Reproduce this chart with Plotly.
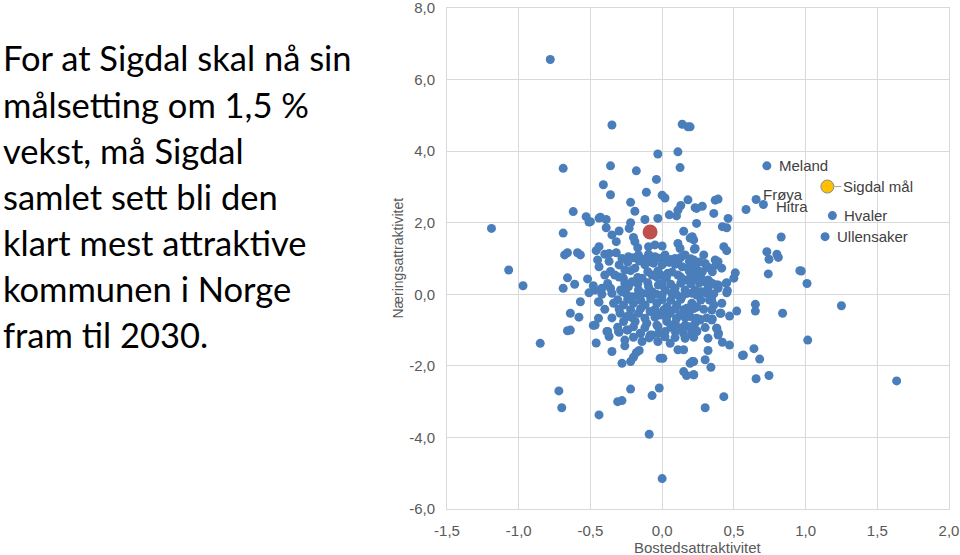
import plotly.graph_objects as go

# ---------------- data ----------------
# Bostedsattraktivitet (x) and Næringsattraktivitet (y) for Norwegian municipalities
kommune_x = [
    -0.78, -0.69, -1.19, -0.62, -0.53, -0.51, -0.44, -0.69, -0.68, -0.66, -0.59, -0.57, -0.46, -0.45,
    -1.07, -0.97, -0.66, -0.61, -0.52, -0.69, -0.48, -0.51, -0.47, -0.57, -0.44, -0.64, -0.58, -0.48,
    -0.66, -0.64, -0.85, -0.46, -0.72, -0.70, -0.44,
    -0.35, 0.14, 0.18, -0.03, 0.11, -0.36, -0.18, 0.125, -0.04, -0.41, -0.36, -0.11, 0.0, 0.02, 0.18,
    -0.22, 0.13, 0.11, -0.19, 0.23, 0.05, 0.10, -0.43, -0.39, -0.12, -0.03, -0.50, 0.24, -0.22, -0.23,
    -0.39, -0.30, 0.15, -0.35, -0.20, -0.19, 0.195, 0.22, -0.32, -0.44, -0.095, -0.05, 0.0, 0.11, 0.125,
    -0.37, -0.32, 0.23, -0.17, -0.40,
    -0.235, -0.165, -0.095, -0.05, 0.02, 0.09, 0.16, 0.39, 0.415,
    -0.30, -0.26, -0.19, -0.12, -0.06, 0.0, 0.03, 0.09, 0.14, 0.18, 0.23, 0.28, 0.33, -0.44, -0.40,
    -0.33, -0.27, -0.21, -0.14, -0.07, -0.01, 0.04, 0.11, 0.16, 0.23, 0.30, 0.38, -0.42, -0.36, -0.29,
    -0.235, -0.165, -0.095, -0.026, 0.02, 0.09, 0.16, 0.23, 0.32, 0.39,
    -0.35, -0.28, -0.21, -0.14, -0.07, 0.0, 0.067, 0.137, 0.207, 0.277, 0.346, 0.416, -0.444, -0.339,
    -0.269, -0.20, -0.118, -0.037, 0.033, 0.102, 0.172, 0.242, -0.293, -0.246, -0.165, -0.084, -0.014,
    0.056, 0.126, 0.184, 0.346, 0.404, -0.269, -0.188, -0.107, -0.037, 0.033, 0.091, 0.16, 0.23, 0.265,
    0.346, -0.385, -0.304, -0.246, -0.153, -0.084, -0.025, 0.021, 0.091, 0.149, 0.207, 0.242, 0.381,
    0.393, -0.444, -0.467,
    -0.38, -0.37, -0.30, -0.24, -0.26, -0.26, -0.35, -0.28, -0.22, -0.20, -0.18, -0.16, -0.15, -0.14,
    -0.07, -0.03, -0.014, 0.005, 0.056, 0.11, 0.15, 0.16, 0.195, 0.21, 0.15, 0.17, 0.22, -0.22, -0.31,
    -0.28, -0.07, -0.02, -0.09, 0.0,
    0.195, 0.37, 0.39, 0.24, 0.28, 0.36, 0.46, 0.42, 0.45, 0.83, 0.73, 0.745, 0.80, 0.81, 0.74, 0.96,
    0.21, 0.225, 0.43, 0.45, 0.29, 0.30, 0.315, 0.37, 0.376, 0.22, 0.23, 0.24, 0.25, 0.51, 0.50, 0.33,
    0.39, 0.45, 0.585,
    0.65, 0.65, 0.84, 0.52, 0.47, 0.41, 0.45, 0.455, 0.446, 0.39, 0.32, 0.32, 0.26, 0.31, 0.33, 0.36,
    0.24, 0.207, 0.265, 0.35, 0.195, 0.38, 0.39, 0.24, 0.21, 0.32, 0.42, 0.47, 0.56, 0.64, 0.68, 0.32,
    0.30, 0.34, 0.22, 0.22, 0.655, 0.745, 0.43, 0.30,
    0.97, 1.01, 1.25, 1.015, 0.567, 1.635,
    # dense core
    -0.28, -0.20, -0.13, -0.02, 0.06, 0.13, 0.20,
    -0.37, -0.24, -0.16, -0.08, 0.05, 0.11, 0.19, 0.26,
    -0.36, -0.22, -0.10, -0.03, 0.07, 0.19, 0.25, 0.35,
    -0.30, -0.17, -0.04, 0.03, 0.13, 0.20, 0.27,
    -0.38, -0.26, -0.17, -0.10, 0.00, 0.06, 0.13, 0.20, 0.26, 0.35,
    -0.42, -0.25, -0.17, -0.10, -0.04, 0.10, 0.17, 0.24, 0.36,
    -0.31, -0.24, -0.15, -0.08, 0.00, 0.06, 0.13, 0.27,
    -0.40, -0.30, -0.22, -0.15, -0.05, 0.01, 0.09, 0.15, 0.22, 0.29,
    -0.35, -0.21, -0.12, -0.05, 0.03, 0.10, 0.16, 0.24, 0.31,
    -0.31, -0.20, -0.12, -0.03, 0.06, 0.13, 0.19, 0.30,
    -0.20, -0.09, 0.02, 0.09, 0.22,
]
kommune_y = [
    6.56, 3.52, 1.84, 2.31, 2.17, 2.02, 2.13, 1.71, 1.10, 1.16, 1.16, 1.10, 1.22, 0.96,
    0.68, 0.24, 0.46, 0.28, 0.43, 0.17, 0.24, 0.04, 0.12, -0.21, -0.22, -0.53, -0.64, -0.87,
    -1.02, -1.00, -1.37, -1.36, -2.70, -3.17, -3.37,
    4.73, 4.75, 4.68, 3.92, 3.98, 3.59, 3.45, 3.54, 3.21, 3.06, 2.78, 2.85, 2.77, 2.69, 2.64,
    2.57, 2.48, 2.35, 2.32, 2.42, 2.22, 2.19, 2.15, 2.09, 2.09, 2.12, 2.03, 1.98, 2.00, 1.84,
    1.86, 1.77, 1.76, 1.66, 1.59, 1.47, 1.57, 1.52, 1.47, 1.33, 1.33, 1.38, 1.35, 1.42, 1.28,
    1.14, 1.16, 1.28, 1.30, 1.12,
    1.05, 1.10, 1.12, 1.05, 1.10, 1.00, 1.10, 0.91, 0.73,
    0.82, 0.68, 0.73, 0.82, 0.87, 0.82, 0.91, 0.84, 0.77, 0.73, 0.82, 0.63, 0.73, 0.77, 0.54,
    0.54, 0.45, 0.35, 0.45, 0.54, 0.54, 0.59, 0.54, 0.40, 0.45, 0.35, 0.26, 0.17, 0.17, 0.12,
    0.21, 0.12, 0.21, 0.26, 0.12, 0.17, 0.12, 0.12, 0.17, 0.17,
    0.03, 0.07, -0.07, 0.03, 0.07, -0.02, 0.03, -0.07, 0.03, 0.07, -0.16, -0.25, -0.21, -0.25,
    -0.30, -0.25, -0.30, -0.25, -0.35, -0.30, -0.39, -0.35, -0.53, -0.62, -0.53, -0.48, -0.58,
    -0.53, -0.58, -0.53, -0.44, -0.53, -0.76, -0.76, -0.81, -0.86, -0.76, -0.81, -0.86, -0.81, -0.72,
    -0.72, -1.04, -1.04, -0.995, -1.09, -1.14, -1.09, -1.04, -1.04, -1.09, -0.995, -1.04, -0.95,
    -1.09, -0.67, -0.86,
    -1.04, -1.18, -1.06, -1.00, -1.28, -1.44, -1.60, -1.93, -1.88, -1.76, -1.63, -1.57, -1.09, -1.32,
    -1.14, -1.32, -1.79, -1.79, -1.37, -1.55, -1.55, -1.23, -1.93, -1.88, -2.16, -2.27, -2.25, -2.65, -3.00,
    -2.97, -2.83, -2.62, -3.91, -5.15,
    4.68, 2.63, 2.66, 2.40, 2.46, 2.26, 2.12, 1.89, 1.86, 1.60, 1.19, 0.98, 1.12, 1.03, 0.57, 0.66,
    1.61, 1.26, 1.33, 1.22, 1.10, 0.86, 0.77, 0.96, 0.82, 0.96, 0.77, 0.59, 0.45, 0.60, 0.45, 0.35,
    0.26, 0.32, 2.37,
    -0.28, -0.47, -0.53, -0.47, -0.61, -0.53, 0.04, 0.10, 0.31, 0.23, 0.26, 0.40, 0.07, 0.03, -0.16, -0.30,
    -0.36, -0.25, -0.70, -0.69, -0.62, -0.95, -1.14, -1.02, -1.11, -1.23, -1.34, -1.42, -1.71, -1.52, -1.81, -1.57,
    -1.83, -2.04, -1.88, -2.25, -2.36, -2.27, -2.86, -3.17,
    0.65, 0.30, -0.32, -1.28, -1.70, -2.42,
    # dense core
    1.00, 1.02, 0.98, 1.01, 0.97, 1.03, 0.99,
    0.92, 0.90, 0.93, 0.91, 0.89, 0.94, 0.92, 0.90,
    0.64, 0.66, 0.63, 0.65, 0.62, 0.64, 0.66, 0.63,
    0.48, 0.47, 0.49, 0.46, 0.48, 0.50, 0.47,
    0.30, 0.31, 0.29, 0.32, 0.30, 0.28, 0.31, 0.29, 0.32, 0.30,
    0.00, 0.01, -0.02, 0.02, 0.00, -0.01, 0.02, -0.02, 0.01,
    -0.15, -0.14, -0.16, -0.13, -0.15, -0.17, -0.14, -0.16,
    -0.42, -0.41, -0.43, -0.40, -0.42, -0.44, -0.41, -0.43, -0.40, -0.42,
    -0.66, -0.65, -0.67, -0.64, -0.66, -0.68, -0.65, -0.67, -0.66,
    -0.92, -0.91, -0.93, -0.90, -0.92, -0.94, -0.91, -0.93,
    -1.20, -1.22, -1.19, -1.21, -1.20,
]

named_labels = ["Meland", "Frøya", "Hitra", "Hvaler", "Ullensaker"]
named_x = [0.73, 0.655, 0.706, 1.187, 1.136]
named_y = [3.59, 2.65, 2.51, 2.20, 1.61]

sigdal_x, sigdal_y = [-0.084], [1.74]
maal_label = "Sigdal mål"
maal_x, maal_y = [1.152], [3.01]

x_ticks = [-1.5, -1.0, -0.5, 0.0, 0.5, 1.0, 1.5, 2.0]
x_ticktext = ["-1,5", "-1,0", "-0,5", "0,0", "0,5", "1,0", "1,5", "2,0"]
y_ticks = [-6, -4, -2, 0, 2, 4, 6, 8]
y_ticktext = ["-6,0", "-4,0", "-2,0", "0,0", "2,0", "4,0", "6,0", "8,0"]

x_title = "Bostedsattraktivitet"
y_title = "Næringsattraktivitet"

left_lines = [
    "For at Sigdal skal nå sin",
    "målsetting om 1,5 %",
    "vekst, må Sigdal",
    "samlet sett bli den",
    "klart mest attraktive",
    "kommunen i Norge",
    "fram til 2030.",
]

# ---------------- figure ----------------
W, H = 960, 555
ML, MR, MT, MB = 447, 11, 7.5, 46
PW, PH = W - ML - MR, H - MT - MB

def px_x(px):
    return (px - ML) / PW

def px_y(py):
    return (H - MB - py) / PH

BLUE = "#4A7EBB"
GREY = "#595959"
FONT = "Liberation Sans, Arial, sans-serif"

fig = go.Figure()
fig.add_trace(go.Scatter(
    x=kommune_x, y=kommune_y, mode="markers",
    marker=dict(size=9, color=BLUE), hoverinfo="x+y", showlegend=False))
fig.add_trace(go.Scatter(
    x=named_x, y=named_y, mode="markers", text=named_labels,
    marker=dict(size=9, color=BLUE), showlegend=False))
fig.add_trace(go.Scatter(
    x=sigdal_x, y=sigdal_y, mode="markers",
    marker=dict(size=15, color="#C0504D"), showlegend=False))
fig.add_trace(go.Scatter(
    x=maal_x, y=maal_y, mode="markers",
    marker=dict(size=13, color="#FFC000", line=dict(color="#8C8C8C", width=1)),
    showlegend=False))

label_shift = {"Meland": (10, 0), "Frøya": (5, 5), "Hitra": (11, -2),
               "Hvaler": (10, 0), "Ullensaker": (10, 0)}
for name, xv, yv in zip(named_labels, named_x, named_y):
    dx, dy = label_shift[name]
    fig.add_annotation(x=xv, y=yv, xref="x", yref="y", text=name, showarrow=False,
                       xanchor="left", yanchor="middle", xshift=dx, yshift=dy,
                       font=dict(family=FONT, size=15, color="#404040"))

fig.add_annotation(x=maal_x[0], y=maal_y[0], xref="x", yref="y", text=maal_label,
                   showarrow=True, ax=14, ay=0, axref="pixel", ayref="pixel",
                   xanchor="left", yanchor="middle", arrowhead=0, arrowwidth=1,
                   arrowcolor="#A6A6A6", standoff=6,
                   font=dict(family=FONT, size=15, color="#404040"))

# axis titles
fig.add_annotation(x=0.5, y=px_y(548), xref="paper", yref="paper", text=x_title,
                   showarrow=False, xanchor="center", yanchor="middle",
                   font=dict(family=FONT, size=15, color=GREY))
fig.add_annotation(x=px_x(397), y=0.5, xref="paper", yref="paper", text=y_title,
                   showarrow=False, textangle=-90, xanchor="center", yanchor="middle",
                   font=dict(family=FONT, size=14, color=GREY))

# left text block
for i, line in enumerate(left_lines):
    fig.add_annotation(x=px_x(1), y=px_y(57.5 + 46.2 * i), xref="paper", yref="paper",
                       text=line, showarrow=False, xanchor="left", yanchor="middle",
                       font=dict(family="Lato, Carlito, sans-serif", size=34.5, color="#000000"))

axis_common = dict(showgrid=True, gridcolor="#D9D9D9", gridwidth=1, zeroline=False,
                   showline=True, mirror=True, linecolor="#D9D9D9", linewidth=1,
                   ticks="", automargin=False, ticklabeloverflow="allow",
                   tickfont=dict(family=FONT, size=15, color=GREY), fixedrange=True)

fig.update_xaxes(range=[-1.5, 2.0], tickmode="array", tickvals=x_ticks, ticktext=x_ticktext,
                 ticklabelstandoff=8, **axis_common)
fig.update_yaxes(range=[-6, 8], tickmode="array", tickvals=y_ticks, ticktext=y_ticktext,
                 ticklabelstandoff=8, **axis_common)

fig.update_layout(width=W, height=H,
                  margin=dict(l=ML, r=MR, t=MT, b=MB, pad=0, autoexpand=False),
                  paper_bgcolor="white", plot_bgcolor="white", showlegend=False)

fig.write_html("out.html")
